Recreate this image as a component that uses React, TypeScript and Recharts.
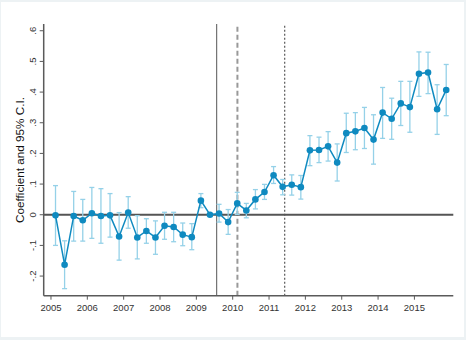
import React from 'react';
import {
  ComposedChart,
  Line,
  XAxis,
  YAxis,
  ErrorBar,
  ReferenceLine,
} from 'recharts';

// quarterly estimates, 2005q1 .. 2015q4
const startYear = 2005;
const coef = [
  -0.002, -0.163, -0.004, -0.018, 0.005, -0.004, -0.002, -0.071, 0.007, -0.074, -0.053,
  -0.074, -0.036, -0.04, -0.065, -0.073, 0.046, 0.0, 0.004, -0.024, 0.037, 0.014, 0.05,
  0.074, 0.129, 0.091, 0.098, 0.09, 0.21, 0.211, 0.223, 0.17, 0.266, 0.272, 0.283, 0.245,
  0.333, 0.313, 0.363, 0.351, 0.46, 0.464, 0.344, 0.407,
];
const ciLow = [
  -0.1, -0.241, -0.086, -0.086, -0.077, -0.093, -0.073, -0.148, -0.044, -0.144, -0.093,
  -0.129, -0.08, -0.088, -0.101, -0.114, 0.023, 0.0, -0.024, -0.064, 0.001, -0.01, 0.019,
  0.05, 0.102, 0.065, 0.064, 0.051, 0.16, 0.17, 0.175, 0.11, 0.203, 0.212, 0.216, 0.165,
  0.249, 0.246, 0.291, 0.269, 0.386, 0.395, 0.262, 0.323,
];
const ciHigh = [
  0.095, -0.085, 0.076, 0.05, 0.089, 0.085, 0.069, 0.007, 0.059, -0.003, -0.013, -0.02,
  0.008, 0.008, -0.027, -0.029, 0.069, 0.0, 0.034, 0.017, 0.073, 0.037, 0.082, 0.099,
  0.157, 0.115, 0.13, 0.128, 0.258, 0.253, 0.271, 0.231, 0.331, 0.333, 0.35, 0.326, 0.415,
  0.38, 0.435, 0.435, 0.531, 0.53, 0.424, 0.49,
];
const yearTicks = [2005, 2006, 2007, 2008, 2009, 2010, 2011, 2012, 2013, 2014, 2015];
const yTicks = [-0.2, -0.1, 0, 0.1, 0.2, 0.3, 0.4, 0.5, 0.6];
const yTickLabels = ['-.2', '-.1', '0', '.1', '.2', '.3', '.4', '.5', '.6'];
// event markers
const solidLineAt = 2009.56;
const dashedLineAt = 2010.13;
const dottedLineAt = 2011.43;

const FONT = 'Arial, "Liberation Sans", sans-serif';
const BLUE = '#0f8ac0';
const CI_BLUE = '#95d1e8';
const AXIS = '#5a5a5a';

const data = coef.map((c, i) => ({
  t: startYear + i * 0.25 + 0.125,
  coef: c,
  err: [c - ciLow[i], ciHigh[i] - c],
}));

function YTick(props: any) {
  const { x, y, payload } = props;
  const idx = yTicks.indexOf(payload.value);
  const label = idx >= 0 ? yTickLabels[idx] : String(payload.value);
  const tx = x - 2;
  return (
    <text
      x={tx}
      y={y}
      transform={`rotate(-90 ${tx} ${y})`}
      textAnchor="middle"
      fontSize={9.5}
      fontFamily={FONT}
      fill="#333"
    >
      {label}
    </text>
  );
}

function YTitle() {
  return (
    <text
      x={24}
      y={160}
      transform="rotate(-90 24 160)"
      textAnchor="middle"
      fontSize={11.7}
      fontFamily={FONT}
      fill="#111"
    >
      Coefficient and 95% C.I.
    </text>
  );
}

export default function App() {
  return (
    <div style={{ position: 'relative', width: 466, height: 340 }}>
      <style>{`body{margin:0}`}</style>
      <div
        style={{
          position: 'absolute',
          left: 0,
          top: 0,
          width: 466,
          height: 340,
          background: '#edf2f4',
        }}
      />
      <div
        style={{
          position: 'absolute',
          left: 1,
          top: 2,
          width: 463,
          height: 335,
          background: '#ffffff',
        }}
      />
      <div style={{ position: 'absolute', left: 0, top: 0 }}>
        <ComposedChart
          width={466}
          height={340}
          data={data}
          margin={{ top: 24, right: 12.7, left: 0, bottom: 14.3 }}
        >
          <XAxis
            dataKey="t"
            type="number"
            domain={[2004.8, 2016.07]}
            allowDataOverflow
            ticks={yearTicks}
            tickFormatter={(v) => String(v)}
            height={30}
            tickSize={4}
            tickMargin={5}
            axisLine={{ stroke: AXIS, strokeWidth: 1.5 }}
            tickLine={{ stroke: AXIS, strokeWidth: 1 }}
            tick={{ fontSize: 9.5, fontFamily: FONT, fill: '#333' }}
          />
          <YAxis
            type="number"
            domain={[-0.264, 0.622]}
            allowDataOverflow
            ticks={yTicks}
            width={43.7}
            tickSize={4}
            tickMargin={2}
            axisLine={{ stroke: AXIS, strokeWidth: 1.5 }}
            tickLine={{ stroke: AXIS, strokeWidth: 1 }}
            tick={<YTick />}
            label={{ content: () => <YTitle /> }}
          />
          <ReferenceLine x={solidLineAt} stroke="#555" strokeWidth={1} />
          <ReferenceLine x={dashedLineAt} stroke="#999" strokeWidth={2} strokeDasharray="5 3" />
          <ReferenceLine x={dottedLineAt} stroke="#666" strokeWidth={1.3} strokeDasharray="2 2" />
          <ReferenceLine y={0} stroke="#555" strokeWidth={2} />
          <Line
            dataKey="coef"
            type="linear"
            stroke={BLUE}
            strokeWidth={1.5}
            dot={{ r: 3.3, fill: BLUE, stroke: BLUE, strokeWidth: 0 }}
            activeDot={false}
            isAnimationActive={false}
          >
            <ErrorBar
              dataKey="err"
              direction="y"
              width={2.5}
              stroke={CI_BLUE}
              strokeWidth={1.3}
              isAnimationActive={false}
            />
          </Line>
        </ComposedChart>
      </div>
    </div>
  );
}
